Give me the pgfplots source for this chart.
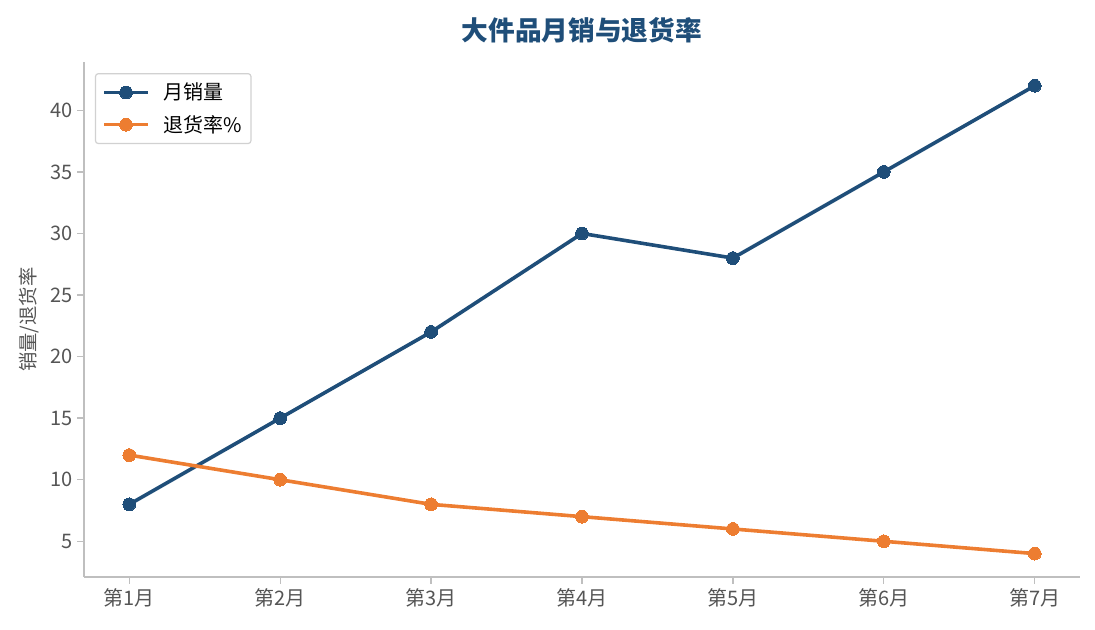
\documentclass[border=0pt]{standalone}
\usepackage{fontspec}
\setmainfont{Noto Sans CJK SC}
\usepackage{pgfplots}
\pgfplotsset{compat=1.18}
\definecolor{sales}{HTML}{1F4E79}
\definecolor{ret}{HTML}{ED7D31}
\definecolor{spine}{HTML}{BFBFBF}
\definecolor{ticktxt}{HTML}{555555}
\begin{document}
\begin{tikzpicture}[x=1pt,y=1pt]
\useasboundingbox (-63,-39.75) rectangle (758.25,432.75);
\begin{axis}[
    at={(0,0)}, anchor=south west,
    scale only axis,
    width=747pt, height=386pt,
    xmin=0.7, xmax=7.3,
    ymin=2.1, ymax=43.9,
    xtick={1,...,7},
    xticklabels={第1月,第2月,第3月,第4月,第5月,第6月,第7月},
    ytick={5,10,...,40},
    axis x line*=bottom, axis y line*=left,
    axis line style={spine, line width=1.1pt},
    tick style={spine, line width=1pt},
    tick align=outside,
    major tick length=5pt,
    tick label style={font=\fontsize{15}{16}\selectfont, text=ticktxt},
    /pgf/number format/assume math mode=true,
    ylabel={销量/退货率},
    ylabel style={font=\fontsize{14.5}{16}\selectfont, text=ticktxt, yshift=2pt},
    title={大件品月销与退货率},
    title style={font=\fontsize{20}{22}\bfseries\selectfont, text=sales, yshift=5pt},
    legend style={at={(rel axis cs:0.011,0.979)}, anchor=north west,
        draw=black!18, line width=0.9pt, rounded corners=2pt,
        font=\fontsize{15}{17}\selectfont, row sep=6pt, inner xsep=5pt, inner ysep=5pt},
    legend cell align=left,
    legend image code/.code={
        \draw[#1, mark repeat=2, mark phase=2] plot coordinates {(0pt,0pt) (16.5pt,0pt) (33pt,0pt)};
        \path (41pt,0pt);
    },
    every axis plot/.append style={line width=2.7pt, mark=*, mark size=4.8pt},
]
\addplot[color=sales, mark options={fill=sales, draw=sales, line width=0pt}] coordinates {
    (1,8) (2,15) (3,22) (4,30) (5,28) (6,35) (7,42)
};
\addlegendentry{月销量}
\addplot[color=ret, mark options={fill=ret, draw=ret, line width=0pt}] coordinates {
    (1,12) (2,10) (3,8) (4,7) (5,6) (6,5) (7,4)
};
\addlegendentry{退货率\%}
\end{axis}
\end{tikzpicture}
\end{document}
